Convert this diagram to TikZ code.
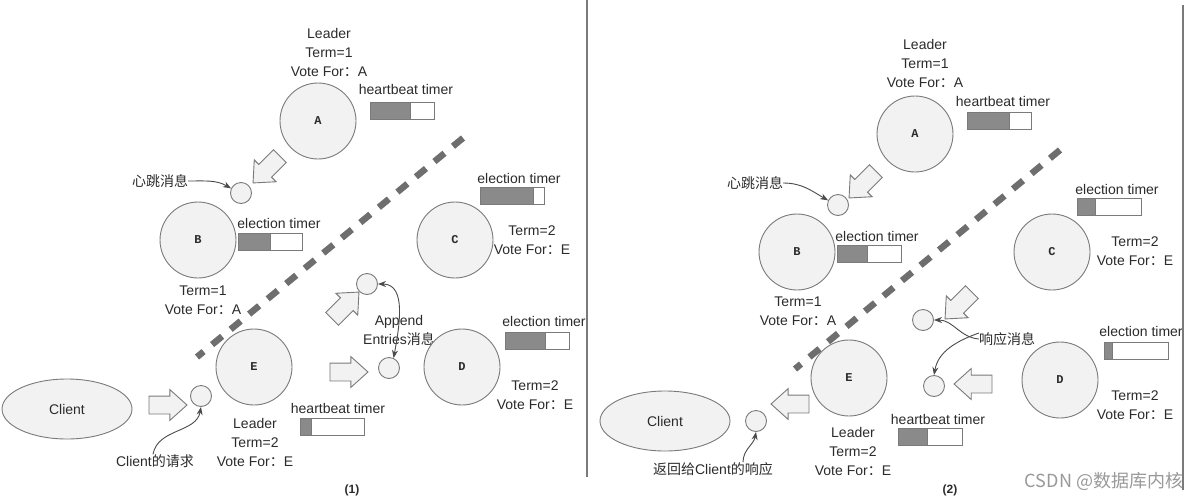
\documentclass[tikz,border=0pt]{standalone}
\usepackage{fontspec}
\setmainfont{Liberation Sans}
\newfontfamily\cjk{Noto Sans CJK SC}
\newfontfamily\monof{Liberation Mono}
\usetikzlibrary{shapes.arrows,shapes.geometric,arrows.meta}
\definecolor{lc}{HTML}{7A7A7A}
\definecolor{cf}{HTML}{F2F2F2}
\definecolor{tc}{HTML}{2B2B2B}
\definecolor{bf}{HTML}{8A8A8A}
\definecolor{dl}{HTML}{6E6E6E}
\newcommand\timerbar[3]{%
  \fill[bf] (#1,#2) rectangle (#3,#2+17);
  \draw[lc, line width=1pt] (#1,#2) rectangle ++(64,17);
  \draw[lc, line width=0.8pt] (#3,#2) -- (#3,#2+17);}
\begin{document}
\begin{tikzpicture}[x=1pt,y=-1pt,
  srv/.style={circle, draw=lc, fill=cf, line width=0.9pt, minimum size=76pt, inner sep=0pt, font=\monof\bfseries\fontsize{12}{12}\selectfont, text=tc},
  msg/.style={circle, draw=lc, fill=cf, line width=0.9pt, minimum size=21pt, inner sep=0pt},
  lbl/.style={font=\fontsize{14}{19}\selectfont, text=tc, align=center, inner sep=0pt},
  clbl/.style={font=\cjk\fontsize{14}{19}\selectfont, text=tc, align=center, inner sep=0pt},
  blk/.style={single arrow, draw=lc, fill=cf, line width=0.9pt, minimum height=38pt, single arrow head extend=6.5pt, inner sep=8.5pt, single arrow tip angle=84},
  cli/.style={ellipse, draw=lc, fill=cf, line width=0.9pt, minimum width=130pt, minimum height=60pt, inner sep=0pt, font=\fontsize{14}{14}\selectfont, text=tc},
  note/.style={-{Stealth[length=8pt,width=6pt]}, draw=tc!85, line width=0.9pt},
  dnote/.style={{Stealth[length=8pt,width=6pt]}-{Stealth[length=8pt,width=6pt]}, draw=tc!85, line width=0.9pt},
  split/.style={draw=lc, line width=1.3pt},
  dsh/.style={draw=dl, line width=6.5pt, dash pattern=on 13pt off 11pt},
  captxt/.style={font=\bfseries\fontsize{12}{12}\selectfont, text=tc}
]
\fill[white] (0,0) rectangle (1191,501);
\useasboundingbox (0,0) rectangle (1191,501);

% ================= panel (1) =================
\node[lbl] (lA) at (329,52) {Leader\\Term=1\\Vote For{\cjk ：}A};
\node[srv] (A) at (318,121) {A};
\node[lbl] (hA) at (406,89) {heartbeat timer};
\timerbar{370}{102}{410}
\node[blk, rotate=-135] (bA) at (270,166) {};
\node[msg] (m1) at (241,193) {};
\node[clbl] (t1) at (160,181) {心跳消息};
\draw[note] (t1.east) to[out=0,in=150] (m1.155);

\node[srv] (B) at (198,240) {B};
\node[lbl] (eB) at (279,223) {election timer};
\timerbar{238}{233}{270}
\node[lbl] (sB) at (203,300) {Term=1\\Vote For{\cjk ：}A};

\coordinate (d1s) at (463,138);
\coordinate (d1e) at (197,357);
\draw[dsh] (d1s) -- (d1e);

\node[lbl] (eC) at (519,178) {election timer};
\timerbar{480}{187}{533}
\node[srv] (C) at (455,240) {C};
\node[lbl] (sC) at (532,240) {Term=2\\Vote For{\cjk ：}E};

\node[msg] (m2) at (367,284) {};
\node[blk, rotate=45] (bE1) at (342,309) {};
\node[lbl] (ae) at (399,330) {Append\\Entries{\cjk 消息}};
\node[lbl] (eD) at (544,321) {election timer};
\timerbar{505}{332}{545}
\node[srv] (E) at (254,367) {E};
\node[srv] (D) at (462,367) {D};
\node[blk] (bE2) at (344,372) {};
\node[msg] (m3) at (389,368) {};
\draw[dnote] (m2.east) to[out=0,in=80] (m3.65);
\node[lbl] (sD) at (535,395) {Term=2\\Vote For{\cjk ：}E};

\node[cli] (cl1) at (67,409) {Client};
\node[blk] (bC) at (163,405) {};
\node[msg] (m4) at (201,396) {};
\node[lbl] (hE) at (338,408) {heartbeat timer};
\timerbar{300}{418}{311}
\node[lbl] (lE) at (255,442) {Leader\\Term=2\\Vote For{\cjk ：}E};
\node[lbl] (cr) at (155,461) {Client{\cjk 的请求}};
\draw[note] ([xshift=-2pt]cr.north) to[out=80,in=-100] (m4.south);
\node[captxt] (p1) at (352,490) {(1)};

\coordinate (v1s) at (587,0);
\coordinate (v1e) at (587,477);
\draw[split] (v1s) -- (v1e);

% ================= panel (2) =================
\node[lbl] (rlA) at (925,63) {Leader\\Term=1\\Vote For{\cjk ：}A};
\node[srv] (rA) at (915,134) {A};
\node[lbl] (rhA) at (1003,101) {heartbeat timer};
\timerbar{967}{112}{1009}
\node[blk, rotate=-135] (rbA) at (866,181) {};
\node[msg] (r1) at (838,205) {};
\node[clbl] (rt1) at (755,183) {心跳消息};
\draw[note] (rt1.east) to[out=0,in=150] (r1.155);

\node[srv] (rB) at (797,252) {B};
\node[lbl] (reB) at (877,236) {election timer};
\timerbar{837}{245}{867}
\node[lbl] (rsB) at (798,311) {Term=1\\Vote For{\cjk ：}A};

\coordinate (d2s) at (1060,150);
\coordinate (d2e) at (795,369);
\draw[dsh] (d2s) -- (d2e);

\node[lbl] (reC) at (1117,189) {election timer};
\timerbar{1077}{198}{1095}
\node[srv] (rC) at (1052,252) {C};
\node[lbl] (rsC) at (1135,251) {Term=2\\Vote For{\cjk ：}E};

\node[blk, rotate=-135] (rbC) at (962,302) {};
\node[msg] (r2) at (923,320) {};
\node[clbl] (ry) at (1007,339) {响应消息};
\draw[note] (ry.west) to[out=175,in=0] (r2.east);
\node[lbl] (reD) at (1141,331) {election timer};
\timerbar{1104}{342}{1112}

\node[srv] (rE) at (849,378) {E};
\node[msg] (r3) at (934,386) {};
\draw[note] ([yshift=6pt]ry.west) to[out=200,in=80] (r3.north);
\node[blk, rotate=180] (rbD) at (978,384) {};
\node[srv] (rD) at (1060,380) {D};
\node[lbl] (rsD) at (1135,405) {Term=2\\Vote For{\cjk ：}E};

\node[cli] (cl2) at (665,421) {Client};
\node[msg] (r4) at (756,421) {};
\node[blk, rotate=180] (rbE) at (795,404) {};
\node[lbl] (rhE) at (938,419) {heartbeat timer};
\timerbar{898}{428}{927}
\node[lbl] (rlE) at (853,451) {Leader\\Term=2\\Vote For{\cjk ：}E};
\node[lbl] (rr) at (713,469) {{\cjk 返回给}Client{\cjk 的响应}};
\draw[note] ([xshift=30pt]rr.north) to[out=90,in=-100] (r4.south);
\node[captxt] (p2) at (950,490) {(2)};

\coordinate (v2s) at (1183,5);
\coordinate (v2e) at (1183,490);
\draw[split] (v2s) -- (v2e);

\node[font=\cjk\fontsize{18}{18}\selectfont, text=black!40] (wm) at (1104,481) {CSDN @数据库内核};
\end{tikzpicture}
\end{document}
